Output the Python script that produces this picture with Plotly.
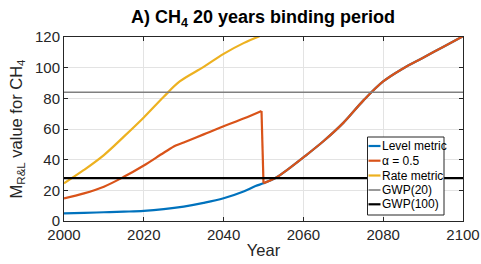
import plotly.graph_objects as go

# ---- data ----
years_level = [2000, 2005, 2010, 2015, 2020, 2025, 2030, 2035, 2040, 2045, 2048, 2050,
               2053, 2055, 2060, 2065, 2070, 2075, 2080, 2085, 2090, 2095, 2100]
level_metric = [5.0, 5.3, 5.7, 6.1, 6.6, 7.7, 9.4, 11.8, 14.8, 19.2, 22.8, 24.6,
                28.0, 31.5, 41.5, 52.0, 64.0, 78.5, 91.0, 99.5, 106.5, 113.5, 120.5]

years_alpha = [2000, 2005, 2010, 2015, 2020, 2025, 2028, 2030, 2035, 2040, 2045, 2049.5]
alpha_before = [14.8, 18.0, 22.4, 28.8, 36.2, 44.5, 49.2, 51.2, 56.5, 61.8, 66.8, 71.8]
years_alpha_after = [2049.5, 2050, 2053, 2055, 2060, 2065, 2070, 2075, 2080, 2085, 2090, 2095, 2100]
alpha_after = [71.8, 24.6, 28.0, 31.5, 41.5, 52.0, 64.0, 78.5, 91.0, 99.5, 106.5, 113.5, 120.5]

years_rate = [2000, 2005, 2010, 2015, 2020, 2025, 2029, 2035, 2040, 2045, 2049]
rate_metric = [24.6, 33.3, 43.0, 55.0, 67.5, 81.0, 91.0, 100.5, 109.0, 116.0, 120.5]

gwp_years = [2000, 2100]
gwp20 = [84, 84]
gwp100 = [28, 28]

series_names = ["Level metric", "\u03b1 = 0.5", "Rate metric", "GWP(20)", "GWP(100)"]
colors = ["#0072BD", "#D95319", "#EDB120", "#808080", "#000000"]
widths = [2.2, 2.2, 2.2, 1.6, 2.2]

fig = go.Figure()
fig.add_trace(go.Scatter(x=years_level, y=level_metric, mode="lines", name=series_names[0],
                         line=dict(color=colors[0], width=widths[0], shape="spline")))
fig.add_trace(go.Scatter(x=years_alpha, y=alpha_before, mode="lines", name=series_names[1],
                         line=dict(color=colors[1], width=widths[1], shape="spline")))
fig.add_trace(go.Scatter(x=years_alpha_after[:2], y=alpha_after[:2], mode="lines", name=series_names[1],
                         line=dict(color=colors[1], width=widths[1])))
fig.add_trace(go.Scatter(x=years_alpha_after[1:], y=alpha_after[1:], mode="lines", name=series_names[1],
                         line=dict(color=colors[1], width=widths[1], shape="spline")))
fig.add_trace(go.Scatter(x=years_rate, y=rate_metric, mode="lines", name=series_names[2],
                         line=dict(color=colors[2], width=widths[2], shape="spline")))
fig.add_trace(go.Scatter(x=gwp_years, y=gwp20, mode="lines", name=series_names[3],
                         line=dict(color=colors[3], width=widths[3])))
fig.add_trace(go.Scatter(x=gwp_years, y=gwp100, mode="lines", name=series_names[4],
                         line=dict(color=colors[4], width=widths[4])))

W, H = 481, 264
ML, MR, MT, MB = 64, 18, 37, 43
PX0, PX1, PY0, PY1 = ML, W - MR, MT, H - MB  # plot area in pixels


def px(x):
    return (x - PX0) / (PX1 - PX0)


def py(y):
    return (PY1 - y) / (PY1 - PY0)


# ---- compact MATLAB-style legend box ----
shapes = [dict(type="rect", xref="paper", yref="paper",
               x0=px(367.5), x1=px(444), y0=py(215), y1=py(137),
               line=dict(color="#262626", width=1), fillcolor="white", layer="above")]
annotations = []
row_y = [146, 160.7, 175.5, 190, 204.3]
for name, col, w, ry in zip(series_names, colors, widths, row_y):
    shapes.append(dict(type="line", xref="paper", yref="paper",
                       x0=px(368.5), x1=px(380.5), y0=py(ry), y1=py(ry),
                       line=dict(color=col, width=w), layer="above"))
    annotations.append(dict(text=name, xref="paper", yref="paper", x=px(380.5), y=py(ry),
                            xanchor="left", yanchor="middle", showarrow=False,
                            font=dict(size=12, color="#000000"), xshift=-1))

font_family = "Liberation Sans, Arial, sans-serif"
fig.update_layout(
    width=W, height=H,
    margin=dict(l=ML, r=MR, t=MT, b=MB, autoexpand=False),
    paper_bgcolor="white", plot_bgcolor="white",
    font=dict(family=font_family, size=15, color="#262626"),
    title=dict(text="<b>A) CH<sub>4</sub> 20 years binding period</b>",
               x=263 / W, xanchor="center", y=1 - 16.5 / H, yanchor="middle",
               font=dict(size=18, color="#000000")),
    showlegend=False,
    hovermode=False,
    shapes=shapes,
    annotations=annotations,
)
fig.update_xaxes(range=[2000, 2100], tickvals=[2000, 2020, 2040, 2060, 2080, 2100],
                 showgrid=True, gridcolor="#E3E3E3", gridwidth=1, automargin=False,
                 showline=True, linecolor="#262626", linewidth=1, mirror="ticks",
                 ticks="inside", ticklen=4, tickcolor="#262626", zeroline=False,
                 title=dict(text="Year", font=dict(size=16.5), standoff=2))
fig.update_yaxes(range=[0, 120], tickvals=[0, 20, 40, 60, 80, 100, 120],
                 showgrid=True, gridcolor="#E3E3E3", gridwidth=1, automargin=False,
                 showline=True, linecolor="#262626", linewidth=1, mirror="ticks",
                 ticks="inside", ticklen=4, tickcolor="#262626", zeroline=False,
                 title=dict(text="M<sub>R&L</sub> value for CH<sub>4</sub>", font=dict(size=16.5), standoff=8))

# remove the browser's default 8px body margin so the 481x264 figure fills the window exactly
fig.write_html("out.html",
               config={"displayModeBar": False},
               post_script="document.body.style.margin='0';document.documentElement.style.overflow='hidden';")
